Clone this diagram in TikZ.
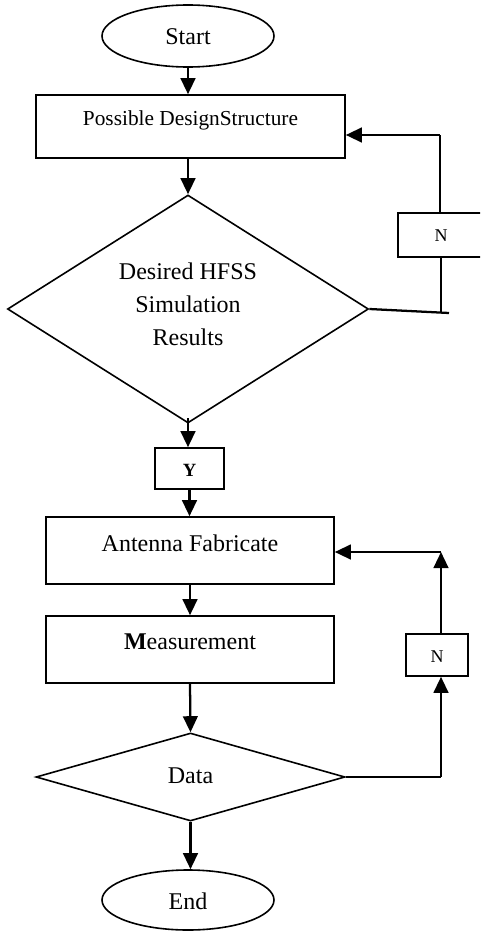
\documentclass[tikz,border=0pt]{standalone}
\usepackage{fontspec}
\setmainfont{Liberation Serif}
\usetikzlibrary{shapes.geometric,arrows.meta}

\begin{document}
\begin{tikzpicture}[x=0.75pt,y=-0.75pt,
  outline/.style={draw=black,line width=1.2pt,inner sep=0pt},
  stepbox/.style={outline,rectangle},
  term/.style={outline,ellipse},
  decide/.style={outline,diamond},
  txt/.style={inner sep=0pt,font=\fontsize{18}{24.75}\selectfont,align=center},
  small/.style={inner sep=0pt,font=\fontsize{13.5}{15}\selectfont},
  arr/.style={line width=1.7pt,-{Triangle[length=12pt,width=11pt]}},
  link/.style={line width=1.7pt}
]
\useasboundingbox (0,0) rectangle (480,931);
\clip (0,0) rectangle (480,931);

% terminals
\node[term,minimum width=129pt,minimum height=46.5pt] (start) at (188,36) {};
\node[txt] (startT) at (188,37) {Start};
\node[term,minimum width=129pt,minimum height=45pt] (end) at (188,900) {};
\node[txt] (endT) at (188,901) {End};

% process boxes
\node[stepbox,minimum width=231.75pt,minimum height=47.25pt] (design) at (190.5,126.5) {};
\node[txt,font=\fontsize{16}{20}\selectfont] (designT) at (190.5,120) {Possible DesignStructure};
\node[stepbox,minimum width=216pt,minimum height=50.25pt] (fab) at (190,550.5) {};
\node[txt] (fabT) at (190,543) {Antenna Fabricate};
\node[stepbox,minimum width=216pt,minimum height=50.25pt] (meas) at (190,649.5) {};
\node[txt] (measT) at (190,642) {\textbf{M}easurement};

% decisions
\node[decide,minimum width=270.75pt,minimum height=171pt] (sim) at (188,309) {};
\node[txt] (simT) at (188,304) {Desired HFSS\\Simulation\\Results};
\node[decide,minimum width=231.75pt,minimum height=66pt] (data) at (190.5,777) {};
\node[txt] (dataT) at (190.5,776) {Data};

% yes / no tags
\node[stepbox,minimum width=51.75pt,minimum height=30.75pt] (yes) at (189.5,468.5) {};
\node[small,font=\fontsize{14}{16}\selectfont\bfseries] (yesT) at (189.5,470) {Y};
\node[stepbox,minimum width=64.5pt,minimum height=33pt] (no1) at (441,235) {};
\node[small] (no1T) at (441,236) {N};
\node[stepbox,minimum width=46.5pt,minimum height=31.5pt] (no2) at (437,655) {};
\node[small] (no2T) at (437,657) {N};

% main flow
\draw[arr] (start.south) -- (start.south |- design.north);
\draw[arr] (design.south -| sim.north) -- (sim.north);
\draw[arr] ([yshift=4pt]sim.south) -- (sim.south |- yes.north);
\draw[arr] (yes.south) -- (yes.south |- fab.north);
\draw[arr] (fab.south) -- (meas.north);
\draw[arr] (meas.south) -- (data.north);
\draw[arr] (data.south) -- (data.south |- end.north);

% simulation feedback loop
\coordinate (c1) at (441,313);
\coordinate (c1e) at (449,313);
\coordinate (c2) at (440,135);
\draw[link] (sim.east) -- (c1e);
\draw[link] (c1) -- (c1 |- no1.south);
\draw[link] (c2 |- no1.north) -- (c2);
\draw[arr] (c2) -- (design.east |- c2);

% measurement feedback loop
\coordinate (c3) at (441,777);
\coordinate (c4) at (441,552);
\draw[link] (data.east) -- (c3);
\draw[arr] (c3) -- (c3 |- no2.south);
\draw[arr] (c4 |- no2.north) -- (c4);
\draw[arr] (c4) -- (fab.east |- c4);
\end{tikzpicture}
\end{document}
